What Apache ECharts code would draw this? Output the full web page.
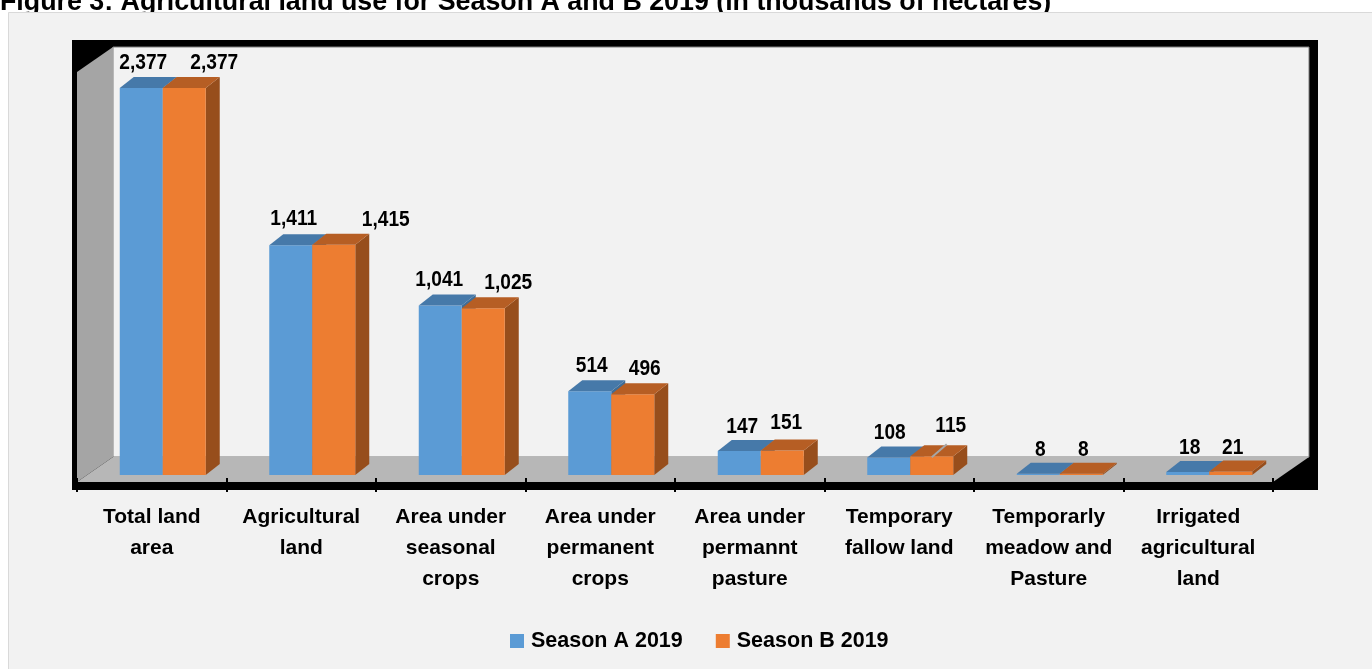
<!DOCTYPE html>
<html><head><meta charset="utf-8">
<script src="https://cdn.jsdelivr.net/npm/echarts@6/dist/echarts.min.js"></script>
<style>html,body{margin:0;padding:0;background:#fff;}#c{width:1372px;height:669px;}</style>
</head><body><div id="c"></div>
<script>
// ---- data ----
const categories = ['Total land\narea', 'Agricultural\nland', 'Area under\nseasonal\ncrops', 'Area under\npermanent\ncrops', 'Area under\npermannt\npasture', 'Temporary\nfallow land', 'Temporarly\nmeadow and\nPasture', 'Irrigated\nagricultural\nland'];
const seasonA = [2377, 1411, 1041, 514, 147, 108, 8, 18];
const seasonB = [2377, 1415, 1025, 496, 151, 115, 8, 21];
const seriesNames = ['Season A 2019', 'Season B 2019'];
const titleText = 'Figure 3: Agricultural land use for Season A and B 2019 (in thousands of hectares)';

// ---- layout / style ----
const FONT = '"Liberation Sans", Arial, sans-serif';
const BAR_W = 43, SHIFT_X = 11, SHIFT_Y = -3, DX = 14, DY = -11;
const LABEL_SCALE = 0.87;
const labelDxA = [2, 3, -1, 2, 3, 1, 2, 2];
const labelDxB = [30, 52, 25, 12, 4, 19, 2, 2];
const labelDyA = [-25, -26, -26, -25, -24, -24, -24, -24];
const labelDyB = [-25, -25, -25, -25, -27, -30, -24, -24];
const leaderB = [false, false, false, false, false, true, false, false];
const colorsA = {front: '#5b9bd5', top: '#4679a9', side: '#3f6d97'};
const colorsB = {front: '#ed7d31', top: '#b65e24', side: '#974e1c'};

function fmt(v) { return v.toLocaleString('en-US'); }

function makeRender(idx, col, ldx, ldy, leader) {
  return function (params, api) {
    const i = api.value(0), v = api.value(1);
    const base = api.coord([i, 0]);
    const topP = api.coord([i, v]);
    const x0 = base[0] + SHIFT_X + (idx === 0 ? -BAR_W : 0);
    const x1 = x0 + BAR_W;
    const yb = base[1] + SHIFT_Y;
    const yt = topP[1] + SHIFT_Y;
    const cx = (x0 + x1) / 2;
    const children = [
      {type: 'polygon', shape: {points: [[x1, yb], [x1 + DX, yb + DY], [x1 + DX, yt + DY], [x1, yt]]}, style: {fill: col.side}},
      {type: 'rect', shape: {x: x0, y: yt, width: BAR_W, height: yb - yt}, style: {fill: col.front}},
      {type: 'polygon', shape: {points: [[x0, yt], [x1, yt], [x1 + DX, yt + DY], [x0 + DX, yt + DY]]}, style: {fill: col.top}},
      {type: 'text', x: cx + ldx[i], y: yt + ldy[i], scaleX: LABEL_SCALE, z2: 10,
        style: {text: fmt(v), x: 0, y: 0, align: 'center', verticalAlign: 'middle', font: 'bold 22px ' + FONT, fill: '#000'}}
    ];
    if (leader && leader[i]) {
      children.push({type: 'line', z2: 9, shape: {x1: cx, y1: yt + 1, x2: cx + 15, y2: yt - 12},
        style: {stroke: '#a6a6a6', lineWidth: 2}});
    }
    return {type: 'group', children: children};
  };
}

const chart = echarts.init(document.getElementById('c'), null, {renderer: 'canvas'});
chart.setOption({
  backgroundColor: '#ffffff',
  animation: false,
  graphic: [
    {type: 'rect', shape: {x: 8.5, y: 12.5, width: 1400, height: 700}, style: {fill: '#f2f2f2', stroke: '#d9d9d9', lineWidth: 1}, z: -10},
    {type: 'text', x: 0, y: -11, style: {text: titleText, font: 'bold 26.8px ' + FONT, fill: '#000'}, z: -11},
    {type: 'rect', shape: {x: 72, y: 40, width: 1246, height: 450}, style: {fill: '#000'}, z: -8},
    {type: 'rect', shape: {x: 113, y: 47, width: 1196, height: 410}, style: {fill: '#f2f2f2', stroke: '#7f7f7f', lineWidth: 1}, z: -7},
    {type: 'polygon', shape: {points: [[77, 72], [113, 47], [113, 457], [77, 482]]}, style: {fill: '#a5a5a5'}, z: -7},
    {type: 'polygon', shape: {points: [[77, 482], [113, 457], [1309, 457], [1273, 482]]}, style: {fill: '#b7b7b7'}, z: -7}
  ],
  legend: {
    data: seriesNames, left: 510, top: 630, itemWidth: 14, itemHeight: 14, itemGap: 33, padding: 0,
    icon: 'rect', textStyle: {fontSize: 21.5, fontWeight: 'bold', color: '#000', fontFamily: FONT, padding: [0, 0, 0, 2]}
  },
  grid: {left: 77, right: 99, top: 71, bottom: 191},
  xAxis: {
    type: 'category', data: categories, boundaryGap: true,
    axisLine: {show: false},
    axisTick: {show: true, length: 14, lineStyle: {color: '#000', width: 2}},
    axisLabel: {interval: 0, margin: 24, fontSize: 21, lineHeight: 31, fontWeight: 'bold', color: '#000', fontFamily: FONT}
  },
  yAxis: {type: 'value', min: 0, max: 2500, show: false, splitLine: {show: false}},
  series: [
    {name: seriesNames[0], type: 'custom', itemStyle: {color: colorsA.front}, z: 2,
      encode: {x: 0, y: 1}, data: seasonA.map((v, i) => [i, v]), renderItem: makeRender(0, colorsA, labelDxA, labelDyA, null)},
    {name: seriesNames[1], type: 'custom', itemStyle: {color: colorsB.front}, z: 3,
      encode: {x: 0, y: 1}, data: seasonB.map((v, i) => [i, v]), renderItem: makeRender(1, colorsB, labelDxB, labelDyB, leaderB)}
  ]
});
</script></body></html>
